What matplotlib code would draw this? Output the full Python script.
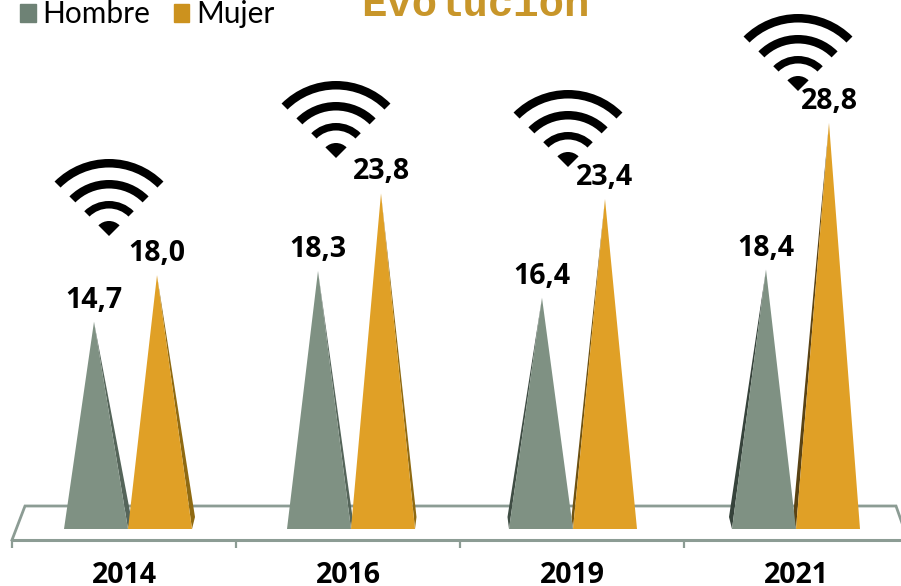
import matplotlib
matplotlib.use("Agg")
import matplotlib.pyplot as plt
from matplotlib.patches import Wedge, Patch

years = ["2014", "2016", "2019", "2021"]
hombre = [14.7, 18.3, 16.4, 18.4]
mujer = [18.0, 23.8, 23.4, 28.8]
series_names = ["Hombre", "Mujer"]
title = "Evolución"

W, H = 901, 586
PX_PER_UNIT = 14.1
AX_LEFT, AX_RIGHT, AX_BOTTOM = 12, 908, 540
ZERO_PX = 529
CAT_PX = (AX_RIGHT - AX_LEFT) / 4

GREY, GREY_LEGEND = "#7F9183", "#6E8275"
GOLD, GOLD_LEGEND = "#E0A026", "#CC921E"
GREY_SIDE = ["#55655A", "#55655A", "#3F4D44", "#36433B"]
GOLD_SIDE = ["#8F6A12", "#8F6A12", "#6E5212", "#5A4314"]
FLOOR = "#8C9C94"
LABEL_FONT = "Open Sans"

fig = plt.figure(figsize=(W / 100, H / 100), dpi=100, facecolor="white")
ax = fig.add_axes([AX_LEFT / W, (H - AX_BOTTOM) / H,
                   (AX_RIGHT - AX_LEFT) / W, AX_BOTTOM / H])
ax.set_xlim(-0.5, 3.5)
ax.set_ylim(-(AX_BOTTOM - ZERO_PX) / PX_PER_UNIT, ZERO_PX / PX_PER_UNIT)
ax.patch.set_alpha(0)
for s in ("top", "left", "right"):
    ax.spines[s].set_visible(False)
ax.spines["bottom"].set_color(FLOOR)
ax.spines["bottom"].set_linewidth(2.2)
ax.set_yticks([])
ax.set_xticks(range(4))
ax.set_xticklabels(years, fontfamily=LABEL_FONT, fontweight="bold", fontsize=20.5)
ax.tick_params(axis="x", which="major", length=0, pad=15)
ax.set_xticks([-0.5, 0.5, 1.5, 2.5, 3.5], minor=True)
ax.tick_params(axis="x", which="minor", length=6, width=1.6, color=FLOOR)

# perspective of the 3D cones (px converted to category units)
base_shift = [4 / CAT_PX, 3 / CAT_PX, 1 / CAT_PX, 0]
side_depth = [3 / CAT_PX, 1.5 / CAT_PX, -1.5 / CAT_PX, -3 / CAT_PX]
half = 32 / CAT_PX
tip_off = {0: -30 / CAT_PX, 1: 33 / CAT_PX}
back_y = 12 / PX_PER_UNIT

for g, vals in enumerate((hombre, mujer)):
    col = (GREY, GOLD)[g]
    sides = (GREY_SIDE, GOLD_SIDE)[g]
    for i, v in enumerate(vals):
        cx = i + (2 * g - 1) * half + base_shift[i]
        tip = i + tip_off[g]
        l, r = cx - half, cx + half
        d = side_depth[i]
        edge = r if d > 0 else l
        ax.fill([tip, edge, edge + d], [v, 0, back_y], color=sides[i], lw=0, zorder=3)
        ax.fill([l, r, tip], [0, 0, v], color=col, lw=0, zorder=4)
        ax.annotate(f"{v:.1f}".replace(".", ","), (tip, v), xytext=(0, 15.5),
                    textcoords="offset points", ha="center", va="center",
                    fontfamily=LABEL_FONT, fontweight="bold", fontsize=20.5, zorder=6)

# pixel-space overlay for the floor outline and wifi pictograms
deco = fig.add_axes([0, 0, 1, 1], zorder=-1)
deco.set_xlim(0, W)
deco.set_ylim(0, H)
deco.axis("off")
deco.plot([12, 25, 896, 908], [H - 540, H - 506, H - 506, H - 540],
          color=FLOOR, lw=2, solid_joinstyle="miter")

over = fig.add_axes([0, 0, 1, 1], zorder=5)
over.set_xlim(0, W)
over.set_ylim(0, H)
over.axis("off")
over.patch.set_alpha(0)
for (wx, wy) in [(109, 236), (336, 158), (568, 167), (798, 91)]:
    for r, w in [(77, 8.5), (56, 8.5), (35, 7.5), (15, 15)]:
        over.add_patch(Wedge((wx, H - wy), r, 45, 135, width=w, color="black", lw=0))
over.text(475, H - 16, title, family="Liberation Mono", fontweight="bold",
          fontsize=30.5, color="#C8962A", ha="center", va="baseline")

handles = [Patch(color=GREY_LEGEND), Patch(color=GOLD_LEGEND)]
over.legend(handles, series_names, loc="upper left", bbox_to_anchor=(20 / W, 0.9995),
            ncol=2, frameon=False, borderpad=0, borderaxespad=0,
            handlelength=0.53, handleheight=0.56, handletextpad=0.22, columnspacing=0.78,
            prop={"family": "Lato", "size": 21.5})

fig.savefig("out.png", dpi=100)
